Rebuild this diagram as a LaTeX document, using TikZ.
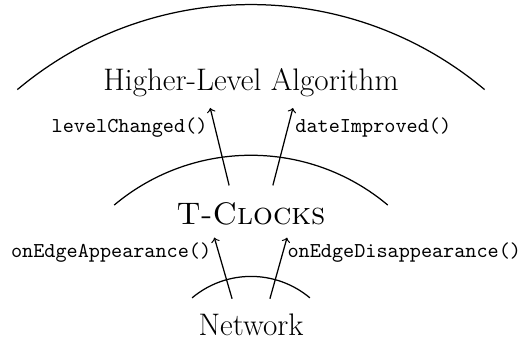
\documentclass[tikz,border=0pt]{standalone}
\usepackage{tikz}
\usetikzlibrary{arrows,positioning}
\tikzstyle{layer}=[font=\fontsize{15}{18}\selectfont,anchor=base]
\tikzstyle{call}=[font=\fontsize{10.2}{12}\selectfont\ttfamily]

\begin{document}
\begin{tikzpicture}[auto,semithick]

   \useasboundingbox (-4.247,0.389) rectangle (4.552,6.227);

   % the three layers
   \foreach \r in {1.55, 3.6, 6.15}
        \draw (50:\r) arc (50:130:\r);

   \node[layer] (net) at (0,0.558) {Network};
   \node[layer] (tc) at (0,2.42) {\textsc{T-Clocks}};
   \node[layer] (hla) at (0,4.70) {Higher-Level Algorithm};

   % calls between layers
   \draw[->] ([xshift=-0.32cm,yshift=0.12cm]net.north) -- node[near end,left,call]{onEdgeAppearance()} ([xshift=-0.62cm,yshift=-0.075cm]tc.south);
   \draw[->] ([xshift=0.32cm,yshift=0.12cm]net.north) -- node[near end,right,call,inner sep=2pt]{onEdgeDisappearance()} ([xshift=0.61cm,yshift=-0.075cm]tc.south);
   \draw[->] ([xshift=-0.37cm,yshift=0.17cm]tc.north) -- node[near end,left,call]{levelChanged()} ([xshift=-0.69cm,yshift=-0.065cm]hla.south);
   \draw[->] ([xshift=0.37cm,yshift=0.17cm]tc.north) -- node[near end,right,call]{dateImproved()} ([xshift=0.71cm,yshift=-0.065cm]hla.south);

\end{tikzpicture}
\end{document}
